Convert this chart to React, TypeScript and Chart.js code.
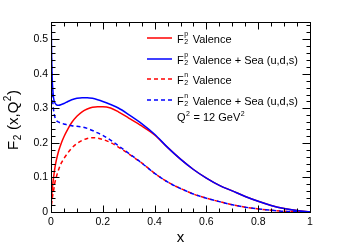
import React, { useEffect, useRef } from "react";
import { Chart, registerables } from "chart.js";

Chart.register(...registerables);

const xValues = [0, 0.001, 0.003, 0.006, 0.01, 0.015, 0.02, 0.03, 0.04, 0.05, 0.065, 0.08, 0.1, 0.12, 0.14, 0.16, 0.18, 0.2, 0.23, 0.26, 0.3, 0.35, 0.4, 0.45, 0.5, 0.55, 0.6, 0.65, 0.7, 0.75, 0.8, 0.85, 0.9, 0.95, 1];

const protonValence = [0, 0.025, 0.05, 0.075, 0.1, 0.128, 0.148, 0.178, 0.2, 0.218, 0.24, 0.259, 0.277, 0.29, 0.298, 0.303, 0.305, 0.305, 0.301, 0.29, 0.272, 0.249, 0.223, 0.187, 0.153, 0.123, 0.098, 0.077, 0.061, 0.045, 0.031, 0.019, 0.01, 0.004, 0];
const protonValenceSea = [0.75, 0.56, 0.43, 0.365, 0.33, 0.316, 0.311, 0.309, 0.311, 0.314, 0.32, 0.325, 0.329, 0.331, 0.331, 0.329, 0.325, 0.32, 0.311, 0.301, 0.282, 0.256, 0.225, 0.187, 0.153, 0.123, 0.098, 0.077, 0.061, 0.045, 0.031, 0.019, 0.01, 0.004, 0];
const neutronValence = [0, 0.012, 0.028, 0.045, 0.062, 0.085, 0.1, 0.124, 0.142, 0.155, 0.171, 0.185, 0.198, 0.207, 0.213, 0.215, 0.214, 0.21, 0.201, 0.188, 0.168, 0.142, 0.112, 0.087, 0.068, 0.052, 0.04, 0.03, 0.021, 0.014, 0.009, 0.005, 0.002, 0.001, 0];
const neutronValenceSea = [0.7, 0.5, 0.39, 0.33, 0.295, 0.275, 0.266, 0.26, 0.257, 0.255, 0.252, 0.25, 0.248, 0.246, 0.242, 0.236, 0.229, 0.222, 0.208, 0.192, 0.17, 0.142, 0.112, 0.087, 0.068, 0.052, 0.04, 0.03, 0.021, 0.014, 0.009, 0.005, 0.002, 0.001, 0];

const xTickLabels = ["0", "0.2", "0.4", "0.6", "0.8", "1"];
const yTickLabels = ["0", "0.1", "0.2", "0.3", "0.4", "0.5"];

const legendLabels = [
  { sup: "p", text: " Valence" },
  { sup: "p", text: " Valence + Sea (u,d,s)" },
  { sup: "n", text: " Valence" },
  { sup: "n", text: " Valence + Sea (u,d,s)" },
];

const RED = "#ff0000";
const BLUE = "#0000ff";
const FONT = "'Liberation Sans', Arial, Helvetica, sans-serif";
const DASH = [4, 3];

type Part = { t: string; k: "n" | "sup" | "sub" | "supsub"; t2?: string };

function drawRich(ctx: CanvasRenderingContext2D, x: number, y: number, parts: Part[], size: number, measureOnly = false): number {
  const small = Math.round(size * 0.65);
  let cx = x;
  for (const p of parts) {
    if (p.k === "n") {
      ctx.font = `${size}px ${FONT}`;
      if (!measureOnly) ctx.fillText(p.t, cx, y);
      cx += ctx.measureText(p.t).width;
    } else if (p.k === "sup") {
      ctx.font = `${small}px ${FONT}`;
      if (!measureOnly) ctx.fillText(p.t, cx + 0.5, y - size * 0.45);
      cx += ctx.measureText(p.t).width + 1;
    } else if (p.k === "sub") {
      ctx.font = `${small}px ${FONT}`;
      if (!measureOnly) ctx.fillText(p.t, cx + 0.5, y + size * 0.18);
      cx += ctx.measureText(p.t).width + 1;
    } else {
      ctx.font = `${small}px ${FONT}`;
      const w1 = ctx.measureText(p.t).width;
      const w2 = ctx.measureText(p.t2 || "").width;
      if (!measureOnly) {
        ctx.fillText(p.t, cx + 0.5, y - size * 0.62);
        ctx.fillText(p.t2 || "", cx + 0.5, y + size * 0.15);
      }
      cx += Math.max(w1, w2) + 2;
    }
  }
  return cx - x;
}

const framePlugin = {
  id: "rootFrame",
  afterDraw(chart: any) {
    const ctx: CanvasRenderingContext2D = chart.ctx;
    const { left, right, top, bottom } = chart.chartArea;
    const xs = chart.scales.x;
    const ys = chart.scales.y;
    ctx.save();
    ctx.strokeStyle = "#000";
    ctx.lineWidth = 1;
    const L = Math.round(left) + 0.5;
    const R = Math.round(right) + 0.5;
    const T = Math.round(top) + 0.5;
    const B = Math.round(bottom) + 0.5;
    ctx.strokeRect(L, T, R - L, B - T);
    ctx.beginPath();
    for (let i = 0; i <= 27; i++) {
      const v = i * 0.02;
      const py = Math.round(ys.getPixelForValue(v)) + 0.5;
      const len = i % 5 === 0 ? 8 : 4;
      ctx.moveTo(L, py);
      ctx.lineTo(L + len, py);
      ctx.moveTo(R, py);
      ctx.lineTo(R - len, py);
    }
    for (let i = 0; i <= 20; i++) {
      const v = i * 0.05;
      const px = Math.round(xs.getPixelForValue(v)) + 0.5;
      const len = i % 4 === 0 ? 7 : 4;
      ctx.moveTo(px, B);
      ctx.lineTo(px, B - len);
      ctx.moveTo(px, T);
      ctx.lineTo(px, T + len);
    }
    ctx.stroke();

    // legend
    const rows = [38, 59, 79, 100];
    const styles = [
      { c: RED, d: [] as number[] },
      { c: BLUE, d: [] as number[] },
      { c: RED, d: DASH },
      { c: BLUE, d: DASH },
    ];
    ctx.fillStyle = "#000";
    ctx.textBaseline = "alphabetic";
    ctx.textAlign = "left";
    rows.forEach((ry, i) => {
      ctx.save();
      ctx.strokeStyle = styles[i].c;
      ctx.lineWidth = 1.5;
      ctx.setLineDash(styles[i].d);
      ctx.beginPath();
      ctx.moveTo(147, ry);
      ctx.lineTo(172, ry);
      ctx.stroke();
      ctx.restore();
      const lab = legendLabels[i];
      drawRich(ctx, 177, ry + 4.5, [
        { t: "F", k: "n" },
        { t: lab.sup, t2: "2", k: "supsub" },
        { t: lab.text, k: "n" },
      ], 11);
    });
    drawRich(ctx, 177, 121, [
      { t: "Q", k: "n" },
      { t: "2", k: "sup" },
      { t: " = 12 GeV", k: "n" },
      { t: "2", k: "sup" },
    ], 11);

    // axis titles
    ctx.font = `15px ${FONT}`;
    ctx.textAlign = "center";
    ctx.fillText("x", (left + right) / 2, 242);
    ctx.textAlign = "left";
    const yParts: Part[] = [
      { t: "F", k: "n" },
      { t: "2", k: "sub" },
      { t: " (x,Q", k: "n" },
      { t: "2", k: "sup" },
      { t: ")", k: "n" },
    ];
    const w = drawRich(ctx, 0, 0, yParts, 15, true);
    ctx.translate(18, 120);
    ctx.rotate(-Math.PI / 2);
    drawRich(ctx, -w / 2, 0, yParts, 15);
    ctx.restore();
  },
};

export default function App() {
  const ref = useRef<HTMLCanvasElement | null>(null);
  useEffect(() => {
    if (!ref.current) return;
    const mk = (arr: number[]) => xValues.map((x, i) => ({ x, y: arr[i] }));
    const chart = new Chart(ref.current, {
      type: "line",
      data: {
        datasets: [
          { label: "F2p Valence", data: mk(protonValence), borderColor: RED, borderWidth: 1.5, pointRadius: 0, order: 1, cubicInterpolationMode: "monotone", fill: false },
          { label: "F2p Valence + Sea (u,d,s)", data: mk(protonValenceSea), borderColor: BLUE, borderWidth: 1.5, pointRadius: 0, order: 0, cubicInterpolationMode: "monotone", fill: false },
          { label: "F2n Valence", data: mk(neutronValence), borderColor: RED, borderWidth: 1.5, borderDash: DASH, pointRadius: 0, order: 1, cubicInterpolationMode: "monotone", fill: false },
          { label: "F2n Valence + Sea (u,d,s)", data: mk(neutronValenceSea), borderColor: BLUE, borderWidth: 1.5, borderDash: DASH, borderDashOffset: 3, pointRadius: 0, order: 0, cubicInterpolationMode: "monotone", fill: false },
        ],
      },
      options: {
        animation: false,
        responsive: false,
        events: [],
        layout: { padding: { top: 22, right: 31, left: 0, bottom: 0 } },
        plugins: { legend: { display: false }, tooltip: { enabled: false } },
        scales: {
          x: {
            type: "linear",
            min: 0,
            max: 1,
            grid: { display: false, drawTicks: false },
            border: { display: false },
            afterBuildTicks: (s: any) => {
              s.ticks = xTickLabels.map((t) => ({ value: parseFloat(t) }));
            },
            afterFit: (s: any) => {
              s.height = 38;
            },
            ticks: {
              padding: 4,
              maxRotation: 0,
              autoSkip: false,
              color: "#000",
              font: { family: FONT, size: 10.5 },
              callback: (v: any) => {
                const i = xTickLabels.findIndex((t) => Math.abs(parseFloat(t) - v) < 1e-6);
                return i >= 0 ? xTickLabels[i] : "";
              },
            },
          },
          y: {
            type: "linear",
            min: 0,
            max: 0.55,
            grid: { display: false, drawTicks: false },
            border: { display: false },
            afterBuildTicks: (s: any) => {
              s.ticks = yTickLabels.map((t) => ({ value: parseFloat(t) }));
            },
            afterFit: (s: any) => {
              s.width = 51;
            },
            ticks: {
              padding: 3,
              autoSkip: false,
              color: "#000",
              font: { family: FONT, size: 10.5 },
              callback: (v: any) => {
                const i = yTickLabels.findIndex((t) => Math.abs(parseFloat(t) - v) < 1e-6);
                return i >= 0 ? yTickLabels[i] : "";
              },
            },
          },
        },
      },
      plugins: [framePlugin],
    } as any);
    return () => chart.destroy();
  }, []);
  return (
    <canvas
      ref={ref}
      width={341}
      height={250}
      style={{ position: "fixed", left: 0, top: 0, width: 341, height: 250, display: "block", background: "#fff" }}
    />
  );
}
